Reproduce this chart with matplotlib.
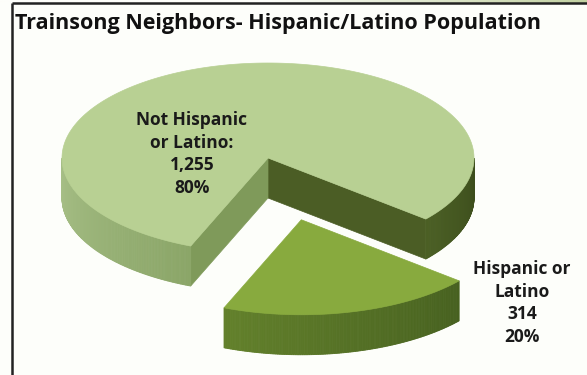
import numpy as np
import matplotlib.pyplot as plt
from matplotlib.patches import Polygon
from matplotlib.colors import to_rgb

# Population counts
categories = ["Not Hispanic\nor Latino:", "Hispanic or\nLatino"]
counts = [1255, 314]
explode = [0.0, 0.67]

TITLE = "Trainsong Neighbors- Hispanic/Latino Population"
FONT = 'Open Sans'

TOP_COLORS = ['#b8d093', '#88aa3e']
CUT_COLORS = {('big', 'start'): '#4b5d25', ('big', 'end'): '#7f9a5a'}
# wall shading knots: angle (deg) -> colour, per slice
WALL_KNOTS = [
    ([180, 250, 300, 322, 360], ['#a8c088', '#8aa567', '#5d7430', '#4a5e24', '#3c4d1c']),
    ([180, 250, 322, 360], ['#6a8a30', '#62802b', '#46601f', '#3e541b']),
]

W, H = 587, 375
CX, CY = 268, 158      # pie centre (pixels)
RX, RY = 206, 95       # ellipse radii
DEPTH = 40
START = -40.0          # first slice starts here, goes counter-clockwise

fig = plt.figure(figsize=(W / 100, H / 100), dpi=100)
fig.patch.set_facecolor('#fdfefa')
ax = fig.add_axes([0, 0, 1, 1])
ax.set_xlim(0, W)
ax.set_ylim(H, 0)
ax.axis('off')

# faint green strip along the very top
grad = np.linspace(0, 1, 300)
strip = np.ones((1, 300, 3))
g0, g1 = np.array(to_rgb('#fdfefa')), np.array(to_rgb('#c2d1a2'))
ramp = np.clip((grad - 0.45) / 0.55, 0, 1)[:, None]
strip[0] = g0 * (1 - ramp) + g1 * ramp
ax.imshow(strip, extent=[0, W, 3, 0], aspect='auto', zorder=0)

# frame lines
ax.plot([12, 12], [3, H], color='#222222', lw=1.8, zorder=10, solid_capstyle='butt')
ax.plot([12, W], [3, 3], color='#222222', lw=1.8, zorder=10, solid_capstyle='butt')

ax.text(15, 23, TITLE, fontsize=15.5, fontweight='bold', family=FONT,
        color='#111111', va='center', ha='left', zorder=11)


def pt(theta, ox, oy, z=0.0):
    t = np.radians(theta)
    return CX + ox + RX * np.cos(t), CY + oy - RY * np.sin(t) + z


def knot_color(knots, ang):
    angs, cols = knots
    a = ang % 360
    if a < 90:
        a += 360
    rgb = np.array([to_rgb(c) for c in cols])
    return tuple(np.interp(a, angs, rgb[:, i]) for i in range(3))


total = sum(counts)
fracs = [c / total for c in counts]
a = START
slices = []
for i, f in enumerate(fracs):
    a0, a1 = a, a + 360 * f
    slices.append((a0, a1))
    a = a1

for i, (a0, a1) in enumerate(slices):
    mid = np.radians((a0 + a1) / 2)
    ox = explode[i] * RX * np.cos(mid)
    oy = -explode[i] * RY * np.sin(mid)
    z0 = 1 + i * 2

    # cut faces (radial walls) facing the viewer
    for which, ang, nrm in (('start', a0, a0 - 90), ('end', a1, a1 + 90)):
        if np.sin(np.radians(nrm)) < 0:
            cx0, cy0 = CX + ox, CY + oy
            rx0, ry0 = pt(ang, ox, oy)
            face = [(cx0, cy0), (rx0, ry0), (rx0, ry0 + DEPTH), (cx0, cy0 + DEPTH)]
            col = CUT_COLORS.get(('big' if i == 0 else 'small', which), '#4b5d25')
            ax.add_patch(Polygon(face, closed=True, fc=col, ec=col, lw=0.5, zorder=z0))

    # outer wall, drawn in thin strips for shading
    steps = np.linspace(a0, a1, int(abs(a1 - a0) * 2) + 2)
    for s0, s1 in zip(steps[:-1], steps[1:]):
        if np.sin(np.radians((s0 + s1) / 2)) >= 0:
            continue
        p0 = pt(s0, ox, oy)
        p1 = pt(s1, ox, oy)
        quad = [p0, p1, (p1[0], p1[1] + DEPTH), (p0[0], p0[1] + DEPTH)]
        col = knot_color(WALL_KNOTS[i], (s0 + s1) / 2)
        ax.add_patch(Polygon(quad, closed=True, fc=col, ec=col, lw=0.6, zorder=z0))

    # top face
    th = np.linspace(a0, a1, 200)
    xs, ys = pt(th, ox, oy)
    verts = [(CX + ox, CY + oy)] + list(zip(xs, ys))
    ax.add_patch(Polygon(verts, closed=True, fc=TOP_COLORS[i], ec=TOP_COLORS[i],
                         lw=0.5, zorder=z0 + 1))

# data labels
label_pos = [(192, 154), (522, 303)]
for cat, n, f, (lx, ly) in zip(categories, counts, fracs, label_pos):
    ax.text(lx, ly, f"{cat}\n{n:,}\n{f * 100:.0f}%", ha='center', va='center',
            fontsize=12.5, fontweight='bold', family=FONT, color='#1a1a1a',
            linespacing=1.33, zorder=12)

fig.savefig('out.png', dpi=100, facecolor=fig.get_facecolor())
